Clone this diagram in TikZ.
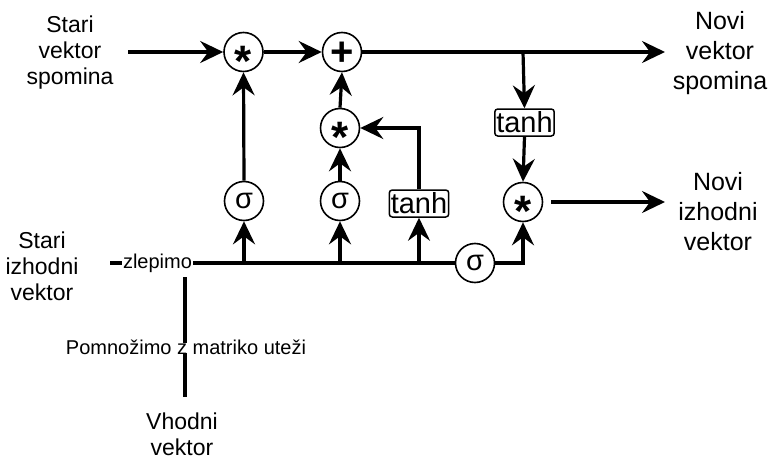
\documentclass[tikz,border=0pt]{standalone}
\usepackage{fontspec}
\setmainfont{Liberation Sans}
\usetikzlibrary{arrows.meta}
% glyphs centred vertically on the node centre
\newcommand{\opstar}{{\fontsize{44}{44}\selectfont\bfseries\raisebox{-0.56em}[0pt][0pt]{*}}}
\newcommand{\opplus}{{\fontsize{40}{40}\selectfont\bfseries\raisebox{-0.34em}[0pt][0pt]{+}}}
\newcommand{\opsig}{\raisebox{-0.26em}[0pt][0pt]{σ}}
\begin{document}
\begin{tikzpicture}[x=1pt,y=-1pt,
  wire/.style={line width=3.2pt},
  conn/.style={wire,-{Stealth[length=23pt,width=22pt,inset=8pt]}},
  op/.style={circle,draw,line width=1.6pt,minimum size=39pt,inner sep=0pt,
    font=\fontsize{29}{29}\selectfont},
  fn/.style={draw,rounded corners=3pt,line width=1.5pt,inner sep=1.5pt,
    minimum height=27pt,font=\fontsize{29}{29}\selectfont},
  lbl/.style={align=center,font=\fontsize{23}{26}\selectfont},
  big/.style={align=center,font=\fontsize{25}{30}\selectfont},
  small/.style={font=\fontsize{20}{24}\selectfont}]
\useasboundingbox (0,0) rectangle (776,460);

% outer labels
\node[lbl] (oldmem) at (70,53) {Stari\\vektor\\spomina};
\node[big] (newmem) at (720,53) {Novi\\vektor\\spomina};
\node[lbl] (oldout) at (42,266) {Stari\\izhodni\\vektor};
\node[big] (newout) at (718,212) {Novi\\izhodni\\vektor};
\node[lbl] (input) at (182,434.5) {Vhodni\\vektor};

% gate operations
\node[op] (mulf) at (243.5,52) {\opstar};
\node[op] (add)  at (342,52) {\opplus};
\node[op] (muli) at (340,128) {\opstar};
\node[op] (mulo) at (523,202) {\opstar};
\node[op] (sigf) at (244,201) {\opsig};
\node[op] (sigi) at (340,201) {\opsig};
\node[op] (sigo) at (475,263) {\opsig};
\node[fn] (tanhc) at (419,203.5) {tanh};
\node[fn] (tanhm) at (524.5,122.5) {tanh};

% concatenation and weights
\node[small,inner sep=1pt] (concat) at (157.5,263) {zlepimo};
\node[small,inner sep=1pt] (weights) at (186,347) {Pomnožimo z matriko uteži};
\coordinate (dashL) at (110,263);
\coordinate (memin) at (128,52);
\coordinate (outend) at (665,52);
\coordinate (split) at (523,52);
\coordinate (hstart) at (551,202);
\coordinate (hend) at (665,202);

% cell state path
\draw[conn] (memin) -- (mulf.west);
\draw[conn] (mulf.east) -- (add.west);
\draw[conn] (add.east) -- (outend);
\draw[conn] (split) -- (tanhm.north);
\draw[conn] (tanhm.south) -- (mulo.north);
\draw[conn] (hstart) -- (hend);

% gates
\draw[conn] (sigf.north) -- (mulf.south);
\draw[conn] (sigi.north) -- (muli.south);
\draw[conn] (muli.north) -- (add.south);
\draw[conn] (tanhc.north) |- (muli.east);

% concatenated input bus
\draw[wire] (dashL) -- (concat.west);
\draw[wire] (concat.east) -- (sigo.west);
\draw[conn] (sigo.east) -| (mulo.south);
\draw[conn] (sigf.south |- concat.east) -- (sigf.south);
\draw[conn] (sigi.south |- concat.east) -- (sigi.south);
\draw[conn] (tanhc.south |- concat.east) -- (tanhc.south);

% weighted input
\draw[wire] ([xshift=-1pt,yshift=-5pt]weights.north) -- ([xshift=-1pt]weights.north |- 0,277);
\draw[wire] ([xshift=-1pt,yshift=3pt]weights.south) -- ([xshift=-1pt]weights.south |- 0,397);
\end{tikzpicture}
\end{document}
